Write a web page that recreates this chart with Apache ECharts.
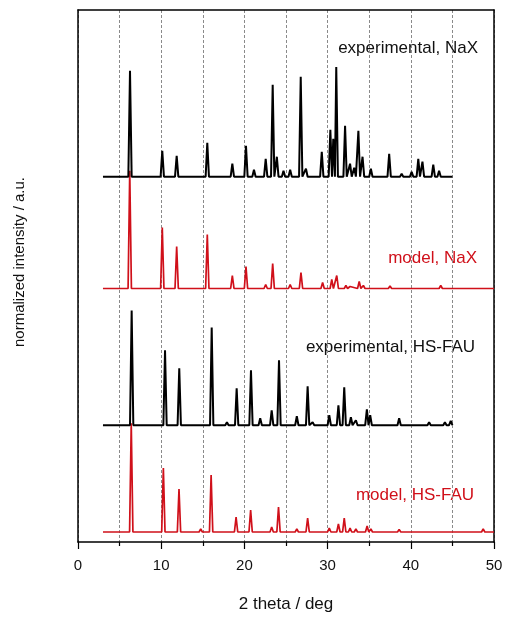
<!DOCTYPE html>
<html>
<head>
<meta charset="utf-8">
<script src="https://cdn.jsdelivr.net/npm/echarts@6/dist/echarts.min.js"></script>
<style>
  html, body { margin: 0; padding: 0; background: #fff; }
  #chart { width: 506px; height: 618px; }
</style>
</head>
<body>
<div id="chart"></div>
<script>
// peaks: [2 theta (deg), peak height above baseline]
const expNaX = [
  [6.25, 106], [10.13, 26], [11.86, 21], [15.54, 34], [18.55, 13], [20.19, 31],
  [21.15, 7], [22.56, 18], [23.4, 92], [23.9, 20], [24.7, 6], [25.5, 7],
  [26.77, 100], [27.4, 8], [29.3, 25], [30.33, 47], [30.68, 38], [31.04, 110],
  [32.1, 51], [32.7, 13], [33.2, 9], [33.7, 46], [34.2, 20], [35.2, 8],
  [37.4, 23], [38.9, 3], [40.1, 5], [40.9, 18], [41.4, 15], [42.7, 12], [43.4, 6]
];
const modelNaX = [
  [6.22, 118], [10.13, 61], [11.86, 42], [15.54, 54], [18.55, 13], [20.19, 22],
  [21.15, 2], [22.56, 4], [23.4, 25], [25.5, 4], [26.8, 16], [29.4, 6],
  [30.5, 9], [31.1, 13], [32.2, 3], [32.7, 2], [33.8, 7], [34.3, 3],
  [37.5, 2.5], [40.9, 2], [42.9, 2], [43.6, 3], [47.3, 2], [48.9, 2]
];
const expFAU = [
  [6.45, 115], [10.46, 75], [12.17, 57], [16.07, 98], [17.9, 3], [19.07, 37],
  [20.79, 55], [21.9, 7], [23.28, 15], [24.16, 65], [26.3, 9], [27.6, 39],
  [28.2, 3], [30.2, 10], [31.3, 20], [32.0, 38], [32.8, 8], [33.4, 5],
  [34.72, 16], [35.12, 10], [38.6, 7], [41.3, 2], [42.2, 3], [44.1, 3], [44.8, 4.5]
];
const modelFAU = [
  [6.4, 109], [10.26, 64], [12.14, 43], [14.75, 3], [16.0, 57], [19.0, 15],
  [20.75, 22], [23.28, 5], [24.1, 25], [26.3, 3], [27.6, 14], [30.2, 4],
  [31.3, 8], [32.0, 14], [32.7, 4], [33.4, 3], [34.75, 6], [35.2, 3],
  [38.6, 2.5], [41.5, 2], [44.9, 2], [48.7, 3]
];

const patternNames = ['experimental, NaX', 'model, NaX', 'experimental, HS-FAU', 'model, HS-FAU'];
const scanRanges = [[3, 45], [3, 50], [3, 45], [3, 50]];
const xTicks = [0, 10, 20, 30, 40, 50];

// layout: vertical offsets of the stacked patterns and peak half width
const offsets = [366, 254, 117, 10];
const halfWidth = 0.2;
const RED = '#d0101a';
const FONT = 'Liberation Sans, Arial, sans-serif';

function buildLine(peaks, range, base) {
  const pts = [[range[0], base]];
  peaks.forEach(p => {
    pts.push([p[0] - halfWidth, base]);
    pts.push([p[0], base + p[1]]);
    pts.push([p[0] + halfWidth, base]);
  });
  pts.push([range[1], base]);
  return pts;
}

const patterns = [expNaX, modelNaX, expFAU, modelFAU];
const colors = ['#000', RED, '#000', RED];

const chart = echarts.init(document.getElementById('chart'));
chart.setOption({
  animation: false,
  textStyle: { fontFamily: FONT },
  grid: { left: 78, right: 12, top: 10, bottom: 75 },
  xAxis: [{
    type: 'value', min: 0, max: 50, interval: 10,
    name: '2 theta / deg', nameLocation: 'middle', nameGap: 54,
    nameTextStyle: { fontSize: 17, color: '#111' },
    axisLine: { lineStyle: { color: '#000', width: 1.5 } },
    axisTick: { length: 7, lineStyle: { color: '#000', width: 1.2 } },
    minorTick: { show: true, splitNumber: 2, length: 4, lineStyle: { color: '#000', width: 1.2 } },
    axisLabel: {
      fontSize: 15, color: '#111', margin: 16,
      formatter: v => xTicks.includes(v) ? String(v) : ''
    },
    splitLine: { show: true, lineStyle: { color: '#8a8a8a', type: [3, 2], width: 1 } },
    minorSplitLine: { show: true, lineStyle: { color: '#8a8a8a', type: [3, 2], width: 1 } }
  }, {
    type: 'value', min: 0, max: 50, position: 'top',
    axisLine: { show: true, onZero: false, lineStyle: { color: '#000', width: 1.5 } },
    axisTick: { show: false }, axisLabel: { show: false }, splitLine: { show: false }
  }],
  yAxis: [{
    type: 'value', min: 0, max: 533,
    axisLine: { show: true, lineStyle: { color: '#000', width: 1.5 } },
    axisTick: { show: false }, axisLabel: { show: false }, splitLine: { show: false }
  }, {
    type: 'value', min: 0, max: 533, position: 'right',
    axisLine: { show: true, onZero: false, lineStyle: { color: '#000', width: 1.5 } },
    axisTick: { show: false }, axisLabel: { show: false }, splitLine: { show: false }
  }],
  series: patterns.map((pk, i) => ({
    name: patternNames[i],
    type: 'line',
    data: buildLine(pk, scanRanges[i], offsets[i]),
    showSymbol: false,
    symbol: 'none',
    lineStyle: { color: colors[i], width: i % 2 ? 1.7 : 2 },
    z: 10 - i
  })),
  graphic: [
    { type: 'text', x: 20, y: 262, rotation: Math.PI / 2,
      style: { text: 'normalized intensity / a.u.', fontSize: 15, fill: '#111', fontFamily: FONT, align: 'center', verticalAlign: 'middle' } },
    { type: 'text', right: 28, top: 40, style: { text: patternNames[0], fontSize: 17, fill: '#111', fontFamily: FONT } },
    { type: 'text', right: 29, top: 250, style: { text: patternNames[1], fontSize: 17, fill: RED, fontFamily: FONT } },
    { type: 'text', right: 31, top: 339, style: { text: patternNames[2], fontSize: 17, fill: '#111', fontFamily: FONT } },
    { type: 'text', right: 32, top: 487, style: { text: patternNames[3], fontSize: 17, fill: RED, fontFamily: FONT } }
  ]
});
</script>
</body>
</html>
